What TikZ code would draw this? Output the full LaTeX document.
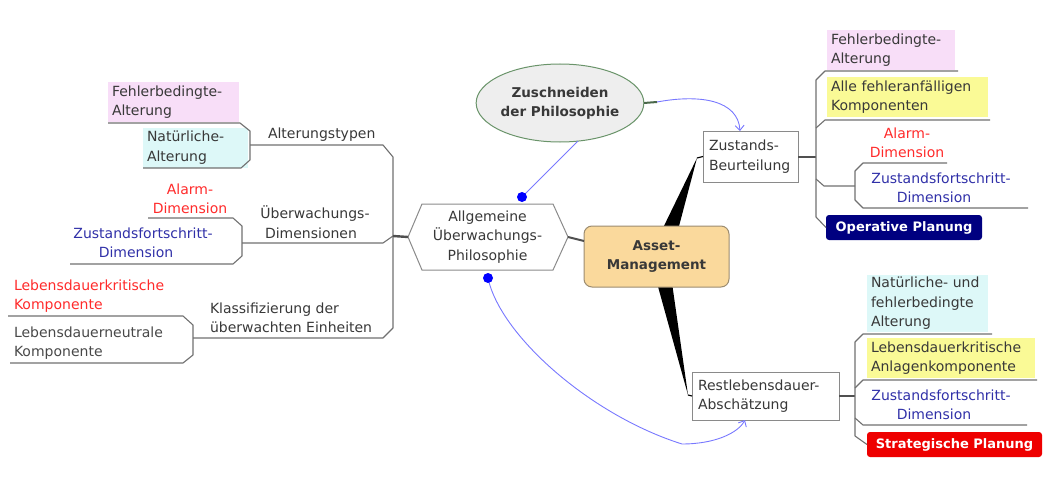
\documentclass[tikz,border=0pt]{standalone}
\usepackage{fontspec}
\setmainfont{DejaVu Sans}
\usetikzlibrary{arrows.meta,shapes.geometric}

\definecolor{linegray}{HTML}{707070}
\definecolor{stemgray}{HTML}{505050}
\definecolor{boxgray}{HTML}{8A8A8A}
\definecolor{txt}{HTML}{383838}
\definecolor{neutral}{HTML}{484848}
\definecolor{pinkfill}{HTML}{F8DEF8}
\definecolor{cyanfill}{HTML}{DDF8F8}
\definecolor{yelfill}{HTML}{FAFA96}
\definecolor{alarmred}{HTML}{FF2A2A}
\definecolor{stateblue}{HTML}{3030A8}
\definecolor{navyfill}{HTML}{000080}
\definecolor{stratfill}{HTML}{EE0000}
\definecolor{amfill}{HTML}{FAD99C}
\definecolor{amborder}{HTML}{9C8C70}
\definecolor{ellfill}{HTML}{EEEEEE}
\definecolor{ellborder}{HTML}{6A946A}
\definecolor{relblue}{HTML}{7878FF}
\definecolor{dotblue}{HTML}{0000FF}

\begin{document}
\begin{tikzpicture}[x=1pt,y=-1pt,
  every node/.style={inner sep=0pt, outer sep=0pt, text=txt,
    font=\fontsize{14}{19.5}\selectfont},
  plain/.style={align=left},
  centred/.style={align=center},
  hilite/.style={align=left, inner xsep=4pt, text width=#1, minimum height=40pt},
  tag/.style={rounded corners=3pt, text=white, align=center,
    font=\fontsize{13}{16}\selectfont\bfseries, minimum height=25pt},
  boldtext/.style={font=\fontsize{13.5}{19}\selectfont\bfseries},
  framed/.style={draw=boxgray, fill=white, line width=1pt, align=left,
    inner xsep=6pt},
  branch/.style={draw=linegray, line width=1.1pt, line join=round},
  stem/.style={draw=stemgray, line width=2.4pt},
  relation/.style={draw=relblue, line width=0.9pt},
  barb/.style={-{Straight Barb[length=5pt,width=9pt]}},
]
\useasboundingbox (0,0) rectangle (1045,487);

% ---------- left wing ----------
\node[hilite=123pt, fill=pinkfill] (fa1) at (173.5,102) {Fehlerbedingte-\\Alterung};
\node[hilite=97pt, fill=cyanfill] (na1) at (195.5,147.5) {Natürliche-\\Alterung};
\node[plain, anchor=west] (al) at (268,135) {Alterungstypen};
\node[centred, text=alarmred] (ad1) at (190,199) {Alarm-\\Dimension};
\node[centred, text=stateblue] (zd1) at (143,243) {Zustandsfortschritt-\\Dimension\hspace*{14pt}};
\node[centred] (ud) at (315,222) {Überwachungs-\\Dimensionen\hspace*{8pt}};
\node[plain, anchor=west, text=alarmred] (lk) at (14,296) {Lebensdauerkritische\\Komponente};
\node[plain, anchor=west, text=neutral] (ln) at (14,343) {Lebensdauerneutrale\\Komponente};
\node[plain, anchor=west] (kl) at (210,318) {Klassifizierung der\\überwachten Einheiten};

\draw[branch] (108,123) -- (240,123) -- (250,131) -- (250,160) -- (241,168) -- (143,168);
\draw[branch] (250,145) -- (383,145) -- (393,157) -- (393,328) -- (383,338) -- (193,338);
\draw[branch] (242,243) -- (383,243) -- (393,236);
\draw[branch] (148,218) -- (233,218) -- (242,226) -- (242,256) -- (233,264) -- (70,264);
\draw[branch] (8,316) -- (183,316) -- (193,325) -- (193,355) -- (183,363) -- (10,363);

% ---------- centre ----------
\node[centred, minimum width=131pt, minimum height=66pt] (hex) at (487.5,237)
  {Allgemeine\\Überwachungs-\\Philosophie};
\draw[draw=boxgray, line width=1pt] (hex.north west) -- (hex.north east)
  -- ([xshift=15pt]hex.east) coordinate (hexE) -- (hex.south east)
  -- (hex.south west) -- ([xshift=-14pt]hex.west) coordinate (hexW) -- cycle;
\draw[stem] (393,236) -- (hexW);

\node[ellipse, draw=ellborder, fill=ellfill, line width=1pt, minimum width=156pt,
  minimum height=78pt, centred, boldtext] (zp) at (560,103) {Zuschneiden\\der Philosophie};

\node[framed, minimum height=51pt, text width=83pt] (zb) at (750.5,156.5) {Zustands-\\Beurteilung};
\node[framed, minimum height=48pt, text width=135pt] (rl) at (765.5,396) {Restlebensdauer-\\Abschätzung};

% tapered main branches, under the central topic
\fill[black] (662,230) -- (678,230) -- (697,158) -- cycle;
\draw[black, line width=1.2pt] (697,158) -- (zb.west);
\fill[black] (657,283) -- (672,283) -- (688,395) -- cycle;
\draw[black, line width=1.2pt] (688,395) -- (rl.west);

\node[draw=amborder, fill=amfill, line width=1pt, rounded corners=8pt,
  minimum width=145pt, minimum height=61pt, centred, boldtext] (am) at (656.5,256.5)
  {Asset-\\Management};
\draw[stem, line width=2pt] (hexE) -- (am.west |- 0,241);

% ---------- right wing: Zustands-Beurteilung ----------
\node[hilite=120pt, fill=pinkfill] (fa2) at (891,50) {Fehlerbedingte-\\Alterung};
\node[hilite=153pt, fill=yelfill] (af) at (907.5,97) {Alle fehleranfälligen\\Komponenten};
\node[centred, text=alarmred] (ad2) at (907,143) {Alarm-\\Dimension};
\node[centred, text=stateblue] (zd2) at (941,188) {Zustandsfortschritt-\\Dimension\hspace*{14pt}};
\node[tag, fill=navyfill, minimum width=156pt] (op) at (904,227.5) {Operative Planung};

\draw[stem, line width=2pt] (zb.east) -- (816,156.5);
\draw[branch] (958,71) -- (825,71) -- (816,80) -- (816,217) -- (op.west);
\draw[branch] (816,128) -- (825,120) -- (990,120);
\draw[branch] (816,179) -- (824,186) -- (855,186);
\draw[branch] (947,163) -- (863,163) -- (855,171) -- (855,200) -- (863,208) -- (1028,208);

% ---------- right wing: Restlebensdauer ----------
\node[hilite=113pt, fill=cyanfill, minimum height=57pt] (nf) at (927.5,303.5)
  {Natürliche- und\\fehlerbedingte\\Alterung};
\node[hilite=160pt, fill=yelfill] (lak) at (951,358) {Lebensdauerkritische\\Anlagenkomponente};
\node[centred, text=stateblue] (zd3) at (941,405) {Zustandsfortschritt-\\Dimension\hspace*{14pt}};
\node[tag, fill=stratfill, minimum width=175pt] (sp) at (954.5,444.5) {Strategische Planung};

\draw[stem, line width=2pt] (rl.east) -- (855,396);
\draw[branch] (992,334) -- (863,334) -- (855,342) -- (855,436) -- (sp.west);
\draw[branch] (855,388) -- (863,380) -- (1037,380);
\draw[branch] (855,418) -- (863,425) -- (1027,425);

% ---------- relationships ----------
\coordinate (d1) at (522,197);
\coordinate (d2) at (488,278);
\draw[draw=ellborder!70!black, line width=2pt] (zp.east) -- (657,102);
\draw[relation, barb] (657,102) .. controls (700,94) and (738,100) .. ([xshift=-10.5pt]zb.north);
\draw[relation] (zp.-65) -- (d1);
\fill[dotblue] (d1) circle (5);
\draw[relation, barb] (d2) .. controls (500,335) and (590,415) .. (682,444)
  .. controls (715,444) and (738,433) .. ([xshift=-20.5pt]rl.south);
\fill[dotblue] (d2) circle (5);
\end{tikzpicture}
\end{document}
